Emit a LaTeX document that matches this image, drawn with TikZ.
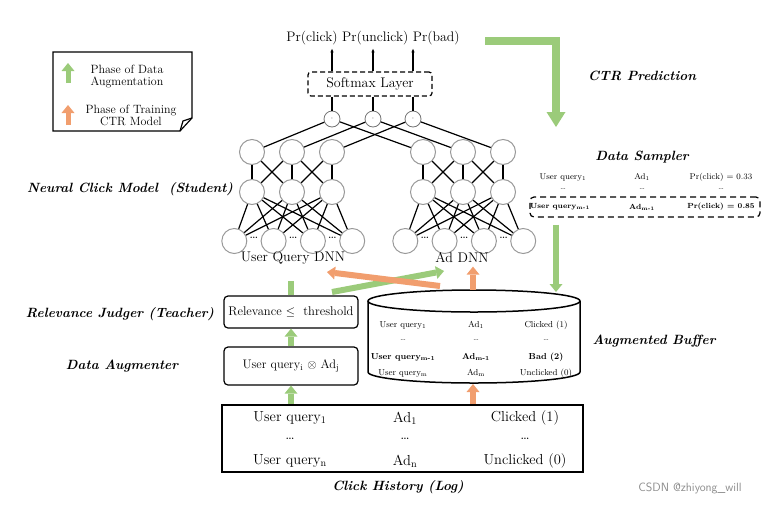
\documentclass[tikz,border=0pt]{standalone}
\usepackage{amsmath}
\usepackage{amssymb}
\usepackage{fontspec}
\usepackage{tikz}
\usetikzlibrary{arrows.meta}
\definecolor{AugGreen}{RGB}{155,203,122}
\definecolor{CtrOrange}{RGB}{241,158,110}
\newcommand*{\query}[1][]{User query\textsubscript{#1}}
\newcommand*{\advert}[1][]{Ad\textsubscript{#1}}
\newcommand*{\fsize}[1]{\fontsize{#1}{#1}\selectfont}

\begin{document}
\begin{tikzpicture}[x=1pt, y=-1pt,
    title/.style={font=\fsize{13.4}\bfseries\itshape},
    green arrow/.style={draw=AugGreen, line width=6pt,
      -{Triangle[length=8pt, width=13pt, line width=0pt]}},
    orange arrow/.style={draw=CtrOrange, line width=6pt,
      -{Triangle[length=8pt, width=13pt, line width=0pt]}}]

  \useasboundingbox (0,0) rectangle (783,507);

  % legend
  \draw[line width=1.2pt] (53,52) -- (192,52) -- (192,118) -- (180,131) -- (53,131) -- cycle;
  \draw[line width=1.2pt] (180,131) -- (183,121) -- (192,118);
  \node[align=center, font=\fsize{12}] (legaug) at (127,76) {Phase of Data\\Augmentation};
  \node[align=center, font=\fsize{12}] (legctr) at (131,115) {Phase of Training\\CTR Model};
  \coordinate (la0) at (68,83);
  \coordinate (la1) at (68,63);
  \coordinate (lc0) at (68,125);
  \coordinate (lc1) at (68,105);
  \draw[green arrow, line width=5pt] (la0) -- (la1);
  \draw[orange arrow, line width=5pt] (lc0) -- (lc1);

  % outputs
  \node[font=\fsize{13.8}] (probs) at (373,38) {Pr(click) Pr(unclick) Pr(bad)};
  \node[draw, line width=1.2pt, dash pattern=on 5pt off 3pt, rounded corners=3pt,
    minimum width=124pt, minimum height=24pt, font=\fsize{14}] (softmax) at (370,84) {Softmax Layer};

  \foreach \i/\x in {1/332, 2/373, 3/413}
  {
    \node[circle, draw=black!55, thick, minimum size=16pt, inner sep=0pt, font=\fsize{8}]
      (prod\i) at (\x, 119) {$\cdot$};
    \draw[line width=1.2pt] (prod\i) -- (softmax.south -| prod\i);
    \draw[line width=1.2pt, -{Latex[length=4pt, width=3.5pt]}]
      (softmax.north -| prod\i) -- (probs.south -| prod\i);
  }

  % two towers
  {\tikzstyle{every node}=[circle, draw=black!40, line width=1pt, minimum size=25pt, inner sep=0pt]
    \foreach \i in {1, 2, 3}
    {
      \node (qtop\i) at (212+\i*40, 152) {};
      \node (qmid\i) at (212+\i*40, 192) {};
      \node (atop\i) at (383+\i*40, 152) {};
      \node (amid\i) at (383+\i*40, 192) {};
    }

    \foreach \j in {1, ..., 4}
    {
      \node (qin\j) at (195+\j*39.3, 241) {};
      \node (ain\j) at (366+\j*39.3, 241) {};
    }
  }

  \foreach \j in {1, 2, 3}
  {
    \node[font=\fsize{14}] (qdots\j) at (214.6+\j*39.3, 238) {\ldots};
    \node[font=\fsize{14}] (adots\j) at (385.6+\j*39.3, 238) {\ldots};
  }

  \foreach \i in {1, 2, 3}
  {
    \draw[line width=1.2pt] (prod\i) -- (qtop\i);
    \draw[line width=1.2pt] (prod\i) -- (atop\i);
  }

  \foreach \i/\j in {1/1, 1/2, 2/1, 2/2, 2/3, 3/2, 3/3}
  {
    \draw[line width=1.2pt] (qtop\i) -- (qmid\j);
    \draw[line width=1.2pt] (atop\i) -- (amid\j);
  }

  \foreach \i in {1, 2, 3}
    \foreach \j in {1, 2, 3, 4}
    {
      \draw[line width=1.2pt] (qmid\i) -- (qin\j);
      \draw[line width=1.2pt] (amid\i) -- (ain\j);
    }

  \node[font=\fsize{14}] (qlabel) at (293,258) {User Query DNN};
  \node[font=\fsize{14}] (alabel) at (462,258) {Ad DNN};

  % left titles
  \node[title] (student) at (130,189) {Neural Click Model\ \ (Student)};
  \node[title] (teacher) at (120,314) {Relevance Judger (Teacher)};
  \node[title] (augmenter) at (122,366) {Data Augmenter};
  \node[title] (ctr) at (642,76) {CTR Prediction};
  \node[title] (sampler) at (642,157) {Data Sampler};
  \node[title] (buflabel) at (654,341) {Augmented Buffer};
  \node[title] (loglabel) at (398,487) {Click History (Log)};

  % teacher and augmenter
  \node[draw, line width=1.2pt, rounded corners=4pt, minimum width=134pt, minimum height=32pt,
    font=\fsize{12.6}] (judge) at (291,312) {Relevance $\leq$\ \ threshold};
  \node[draw, line width=1.2pt, rounded corners=4pt, minimum width=134pt, minimum height=38pt,
    font=\fsize{12.4}] (aug) at (291,366) {\query[i] $\otimes$ \advert[j]};

  % click history
  \node[draw, line width=2pt, minimum width=361pt, minimum height=67pt] (log) at (402,438) {};
  \foreach \r/\y/\a/\b/\c in {1/418/\query[1]/\advert[1]/Clicked (1),
                              2/439/\ldots/\ldots/\ldots,
                              3/461/\query[n]/\advert[n]/Unclicked (0)}
  {
    \node[font=\fsize{14.5}] (log\r a) at (290,\y) {\a};
    \node[font=\fsize{14.5}] (log\r b) at (405,\y) {\b};
    \node[font=\fsize{14.5}] (log\r c) at (525,\y) {\c};
  }

  % augmented buffer
  \coordinate (buf) at (474,301);
  \draw[line width=1.5pt] (buf) ellipse [x radius=106pt, y radius=11pt];
  \draw[line width=1.5pt] (368,301) -- (368,372)
    arc[start angle=180, end angle=360, x radius=106pt, y radius=11pt] -- (580,301);
  \foreach \r/\y/\a/\b/\c in {1/325/\query[1]/\advert[1]/Clicked (1),
                              2/340/\ldots/\ldots/\ldots,
                              3/357/\bfseries\query[m-1]/\bfseries\advert[m-1]/\bfseries Bad (2),
                              4/373/\query[m]/\advert[m]/Unclicked (0)}
  {
    \node[font=\fsize{8.7}] (buf\r a) at (403,\y) {\a};
    \node[font=\fsize{8.7}] (buf\r b) at (476,\y) {\b};
    \node[font=\fsize{8.7}] (buf\r c) at (546,\y) {\c};
  }

  % data sampler
  \node[draw, line width=1.2pt, dash pattern=on 6pt off 4pt, rounded corners=4pt,
    minimum width=230pt, minimum height=20pt] (hot) at (645,207) {};
  \foreach \r/\y/\a/\b/\c in {1/177/\query[1]/\advert[1]/Pr(click) = 0.33,
                              2/189/\ldots/\ldots/\ldots}
  {
    \node[font=\fsize{8.4}] (smp\r a) at (563,\y) {\a};
    \node[font=\fsize{8.4}] (smp\r b) at (642,\y) {\b};
    \node[font=\fsize{8.4}] (smp\r c) at (721,\y) {\c};
  }
  \node[font=\fsize{7.4}\bfseries] (smp3a) at (560,207) {\query[m-1]};
  \node[font=\fsize{7.4}\bfseries] (smp3b) at (642,207) {\advert[m-1]};
  \node[font=\fsize{7.4}\bfseries] (smp3c) at (721,207) {Pr(click) = 0.85};

  % augmentation arrows
  \draw[green arrow] (log.north -| aug) -- (aug.south);
  \draw[green arrow] (aug.north) -- (judge.south);
  \draw[draw=AugGreen, line width=6pt] (judge.north) -- ++(0,-14);
  \coordinate (g0) at (332,292);
  \coordinate (g1) at (444,271);
  \draw[green arrow] (g0) -- (g1);

  % training arrows
  \coordinate (bufin) at (473,384);
  \coordinate (bufout) at (473,290);
  \coordinate (o0) at (440,286);
  \coordinate (o1) at (327,272);
  \draw[orange arrow] (log.north -| bufin) -- (bufin);
  \draw[orange arrow] (bufout) -- (alabel.south -| bufout);
  \draw[orange arrow] (o0) -- (o1);

  % prediction arrows
  \coordinate (c0) at (485,41);
  \coordinate (c1) at (556,127);
  \coordinate (s1) at (556,292);
  \draw[draw=AugGreen, line width=8pt, miter limit=10,
    -{Triangle[length=15pt, width=19pt, line width=0pt]}] (c0) -| (c1);
  \draw[green arrow, shorten <=7pt] (hot.south -| s1) -- (s1);

  \node[font=\sffamily\fsize{12}, text=black!45] (mark) at (690,488) {CSDN @zhiyong\_will};
\end{tikzpicture}
\end{document}
